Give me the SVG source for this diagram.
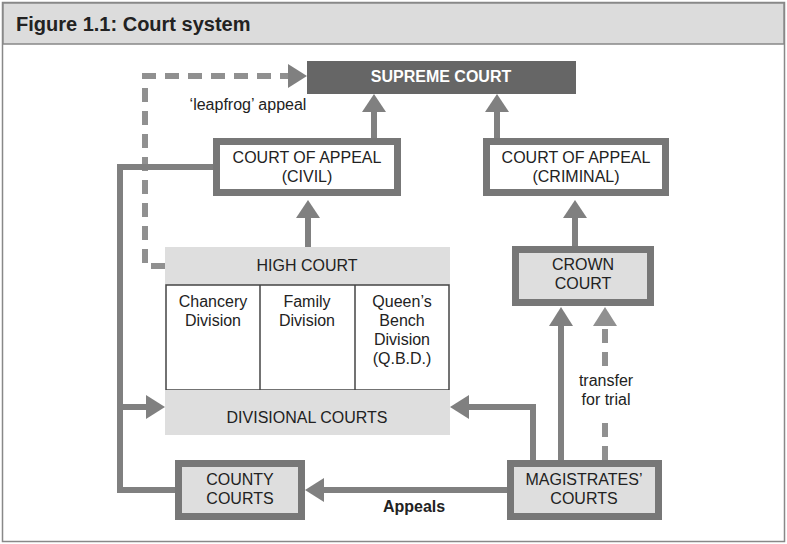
<svg xmlns="http://www.w3.org/2000/svg" width="787" height="544" viewBox="0 0 787 544">
<style>
text{font-family:"Liberation Sans",Arial,sans-serif;font-size:16px;fill:#222;text-anchor:middle}
.ln{fill:none;stroke:#808080;stroke-width:6}
.ds{fill:none;stroke:#909090;stroke-width:6;stroke-dasharray:14 9}
.ah{fill:#808080}
.bx{fill:#fff;stroke:#777;stroke-width:7}
.gb{fill:#dedede;stroke:#777;stroke-width:7}
</style>
<rect x="2.5" y="2.5" width="782" height="539" fill="#fff" stroke="#888" stroke-width="1.5"/>
<rect x="3" y="3" width="781" height="41" fill="#dcdcdc" stroke="#888" stroke-width="1.5"/>
<text x="16" y="31" style="text-anchor:start;font-weight:bold;font-size:20px">Figure 1.1: Court system</text>
<g id="connectors">
<path class="ds" d="M165,266 H145 V76 H290"/>
<polygon class="ah" points="307,76 288,64 288,88"/>
<text x="248" y="110">‘leapfrog’ appeal</text>
<path class="ln" d="M374,138 V110"/><polygon class="ah" points="374,94 362,112 386,112"/>
<path class="ln" d="M497,138 V110"/><polygon class="ah" points="497,94 485,112 509,112"/>
<path class="ln" d="M308,247 V218"/><polygon class="ah" points="308,200 296,218 320,218"/>
<path class="ln" d="M575,246 V218"/><polygon class="ah" points="575,200 563,218 587,218"/>
<path class="ln" d="M213,167 H120 V490 H175"/>
<path class="ln" d="M120,407 H148"/><polygon class="ah" points="165,407 146,395 146,419"/>
<path class="ln" d="M533,460 V407 H468"/><polygon class="ah" points="450,407 469,395 469,419"/>
<path class="ln" d="M561,460 V325"/><polygon class="ah" points="561,307 549,326 573,326"/>
<path class="ds" d="M605,460 V414"/><path class="ds" d="M605,366 V325"/><polygon class="ah" points="605,307 593,326 617,326" style="fill:#909090"/>
<text x="606" y="386">transfer</text><text x="606" y="405">for trial</text>
<path class="ln" d="M507,490 H322"/><polygon class="ah" points="305,490 324,478 324,502"/>
<text x="414" y="512" style="font-weight:bold">Appeals</text>
</g>
<g id="supreme"><rect x="307" y="61" width="269" height="33" fill="#666"/><text x="441" y="82" style="fill:#fff;font-weight:bold">SUPREME COURT</text></g>
<g id="coa-civil"><rect class="bx" x="216.5" y="141.5" width="181" height="51"/><text x="307" y="163">COURT OF APPEAL</text><text x="307" y="182">(CIVIL)</text></g>
<g id="coa-criminal"><rect class="bx" x="486.5" y="141.5" width="179" height="51"/><text x="576" y="163">COURT OF APPEAL</text><text x="576" y="182">(CRIMINAL)</text></g>
<g id="high-court">
<rect x="165" y="247" width="285" height="38" fill="#dedede"/><text x="307" y="271">HIGH COURT</text>
<rect x="166" y="285" width="283" height="105" fill="#fff" stroke="#444" stroke-width="1.5"/>
<line x1="260" y1="285" x2="260" y2="390" stroke="#444" stroke-width="1.5"/>
<line x1="355" y1="285" x2="355" y2="390" stroke="#444" stroke-width="1.5"/>
<text x="213" y="307">Chancery</text><text x="213" y="326">Division</text>
<text x="307" y="307">Family</text><text x="307" y="326">Division</text>
<text x="402" y="307">Queen’s</text><text x="402" y="326">Bench</text><text x="402" y="345">Division</text><text x="402" y="364">(Q.B.D.)</text>
</g>
<g id="divisional"><rect x="165" y="390" width="285" height="45" fill="#dedede"/><text x="307" y="423">DIVISIONAL COURTS</text></g>
<g id="crown"><rect class="gb" x="515.5" y="249.5" width="135" height="53"/><text x="583" y="270">CROWN</text><text x="583" y="289">COURT</text></g>
<g id="county"><rect class="gb" x="178.5" y="463.5" width="123" height="53"/><text x="240" y="485">COUNTY</text><text x="240" y="504">COURTS</text></g>
<g id="magistrates"><rect class="gb" x="510.5" y="463.5" width="148" height="53"/><text x="584" y="485">MAGISTRATES’</text><text x="584" y="504">COURTS</text></g>
</svg>
